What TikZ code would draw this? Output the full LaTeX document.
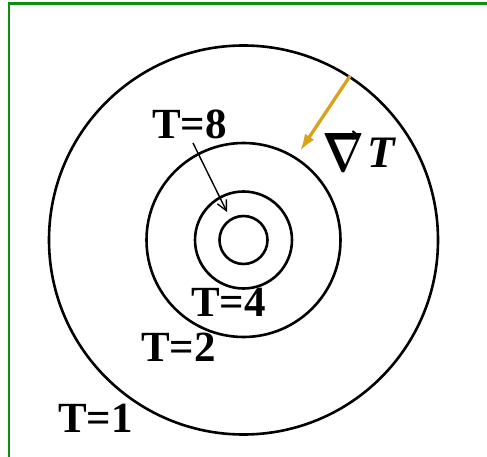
\documentclass[tikz,border=0pt]{standalone}
\usepackage{fontspec}
\setmainfont{Liberation Serif}
\usepackage{graphicx}
\usetikzlibrary{arrows.meta}
\definecolor{frame}{RGB}{16,140,16}
\definecolor{grad}{RGB}{218,162,24}
\begin{document}
\begin{tikzpicture}[x=1pt,y=-1pt,
  ring/.style={draw=black,line width=2.6pt,circle,inner sep=0pt},
  lab/.style={font=\fontsize{43}{50}\selectfont\bfseries,inner sep=0pt},
  gradarrow/.style={draw=grad,line width=3.2pt,-{Latex[length=17pt,width=11pt]}},
  ptr/.style={draw=black,line width=1.4pt,-{Straight Barb[length=10pt,width=10pt]}},
  vecmark/.style={draw=black,line width=2pt,-{Straight Barb[length=5pt,width=8pt]}}
]
\useasboundingbox (0,0) rectangle (487,457);
\draw[frame,line width=2.5pt] (9,457) -- (9,3.5) -- (487,3.5);
\coordinate (c) at (243.5,240);
\node[ring,minimum size=389pt] (r1) at (c) {};
\node[ring,minimum size=194pt] (r2) at (c) {};
\node[ring,minimum size=97pt] (r4) at (c) {};
\node[ring,minimum size=48pt] (r8) at (c) {};
\node[lab] (t8) at (189.5,124) {T=8};
\node[lab] (t4) at (228.5,302) {T=4};
\node[lab] (t2) at (178.5,347.5) {T=2};
\node[lab] (t1) at (95.5,418) {T=1};
\coordinate (a8) at (193,143);
\coordinate (a8tip) at (227,212);
\draw[ptr] (a8) -- (a8tip);
\coordinate (gtip) at (300,151);
\draw[gradarrow] (r1.57.6) -- (gtip);
\node[inner sep=0pt,anchor=south] (nab) at (343,172) {\resizebox{42pt}{38pt}{\boldmath$\nabla$}};
\coordinate (v1) at (347,135);
\coordinate (v2) at (359,135);
\draw[vecmark] (v1) -- (v2);
\node[inner sep=0pt,anchor=base,font=\fontsize{45}{52}\selectfont\bfseries\itshape] (tt) at (381,168) {T};
\end{tikzpicture}
\end{document}
